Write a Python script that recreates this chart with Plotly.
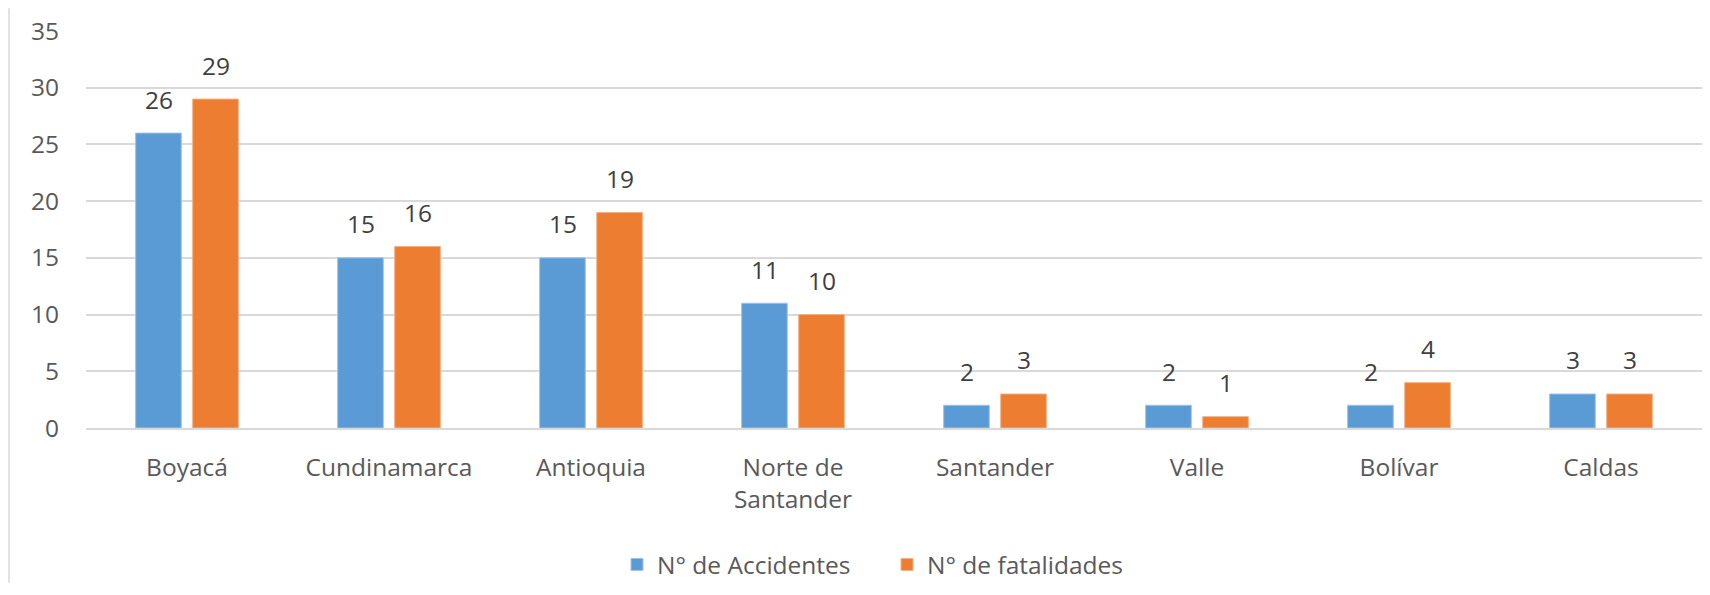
import plotly.graph_objects as go

categories = ["Boyacá", "Cundinamarca", "Antioquia", "Norte de<br>Santander",
              "Santander", "Valle", "Bolívar", "Caldas"]
accidentes = [26, 15, 15, 11, 2, 2, 2, 3]
fatalidades = [29, 16, 19, 10, 3, 1, 4, 3]
y_ticks = [0, 5, 10, 15, 20, 25, 30, 35]

BLUE = "#5B9BD5"
ORANGE = "#ED7D31"
FONT = "Open Sans"
FS = 24.5

fig = go.Figure()
fig.add_trace(go.Bar(name="N° de Accidentes", x=categories, y=accidentes,
                     marker=dict(color=BLUE, line=dict(color="#9cc3e6", width=1))))
fig.add_trace(go.Bar(name="N° de fatalidades", x=categories, y=fatalidades,
                     marker=dict(color=ORANGE, line=dict(color="#f4b183", width=1))))

annotations = []
for cat, a, f in zip(categories, accidentes, fatalidades):
    annotations.append(dict(x=cat, y=a, xref="x", yref="y", text=str(a), showarrow=False,
                            xshift=-28.5, yshift=34, yanchor="middle",
                            font=dict(family=FONT, size=FS, color="#404040")))
    annotations.append(dict(x=cat, y=f, xref="x", yref="y", text=str(f), showarrow=False,
                            xshift=28.5, yshift=34, yanchor="middle",
                            font=dict(family=FONT, size=FS, color="#404040")))

fig.update_layout(
    width=1694, height=579,
    margin=dict(l=78, r=0, t=23, b=156),
    paper_bgcolor="white", plot_bgcolor="white",
    barmode="group", bargap=0.435, bargroupgap=0.2,
    font=dict(family=FONT, size=FS, color="#595959"),
    annotations=annotations,
    legend=dict(orientation="h", x=(617 - 86) / 1616, xanchor="left", y=-0.344,
                yanchor="middle", entrywidth=225, entrywidthmode="pixels",
                font=dict(family=FONT, size=FS, color="#595959"), traceorder="normal"),
    shapes=[dict(type="line", xref="paper", yref="paper", x0=-0.04765, x1=-0.04765,
                 y0=-0.39, y1=1.0575, line=dict(color="#d9d9d9", width=1.5))],
)
fig.update_yaxes(range=[0, 35], tickvals=y_ticks, showgrid=True, gridcolor="#d9d9d9",
                 gridwidth=1.5, zeroline=False, showline=False, ticklabelstandoff=26,
                 tickfont=dict(family=FONT, size=FS, color="#595959"))
fig.update_xaxes(showgrid=False, showline=True, linecolor="#d9d9d9", linewidth=1.5,
                 ticks="", ticklabelstandoff=17,
                 tickfont=dict(family=FONT, size=FS, color="#595959"))

fig.write_html("out.html")
